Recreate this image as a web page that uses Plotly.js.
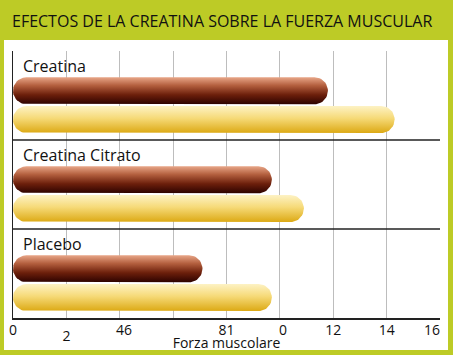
<!DOCTYPE html>
<html>
<head>
<meta charset="utf-8">
<script src="https://cdn.plot.ly/plotly-3.0.1.min.js"></script>
<style>html,body{margin:0;padding:0;}#chart{width:453px;height:355px;}</style>
</head>
<body>
<div id="chart"></div>
<script>
// ---- data ----
const categories = ['Creatina', 'Creatina Citrato', 'Placebo'];
const serieOscura = [11.8, 9.7, 7.1];   // brown bars
const serieClara  = [14.3, 10.9, 9.7];  // yellow bars
const tickVals = [0, 4.16, 8, 10.12, 12, 14, 15.7];
const tickText = ['0', '46', '81', '0', '12', '14', '16'];
const tickValsLow = [2];
const tickTextLow = ['2'];
const titulo = 'EFECTOS DE LA CREATINA SOBRE LA FUERZA MUSCULAR';
const tituloEje = 'Forza muscolare';

// ---- geometry ----
const W = 453, H = 355;
const M = {l: 13, r: 13, t: 51, b: 37};
const plotW = W - M.l - M.r, plotH = H - M.t - M.b;
const xMax = 16, nGroups = categories.length;
const radiusPx = 13.5;
const rx = radiusPx / (plotW / xMax);
const ry = radiusPx / (plotH / nGroups);
const FONT = 'Open Sans, sans-serif';

const brownScale = [[0, '#e8a688'], [0.3, '#b4603f'], [0.65, '#6c1f0b'], [1, '#2c0200']];
const yellowScale = [[0, '#fdf2c4'], [0.45, '#f6da78'], [1, '#dca914']];

function pill(value, yc, scale) {
  const xs = [], ys = [], n = 24;
  const x0 = 0, x1 = value;
  for (let i = 0; i <= n; i++) {
    const t = -Math.PI / 2 + Math.PI * i / n;
    xs.push(x1 - rx + rx * Math.cos(t)); ys.push(yc + ry * Math.sin(t));
  }
  for (let i = 0; i <= n; i++) {
    const t = Math.PI / 2 + Math.PI * i / n;
    xs.push(x0 + rx + rx * Math.cos(t)); ys.push(yc + ry * Math.sin(t));
  }
  return {
    type: 'scatter', mode: 'lines', x: xs, y: ys, fill: 'toself',
    line: {width: 0, color: 'rgba(0,0,0,0)'},
    fillgradient: {type: 'vertical', start: yc - ry, stop: yc + ry, colorscale: scale},
    hoverinfo: 'skip', showlegend: false
  };
}

const traces = [];
categories.forEach((c, i) => {
  traces.push(pill(serieOscura[i], i + 0.447, brownScale));
  traces.push(pill(serieClara[i], i + 0.77, yellowScale));
});
traces.push({type: 'scatter', x: [0], y: [0], xaxis: 'x2', mode: 'markers', marker: {opacity: 0}, hoverinfo: 'skip', showlegend: false});
traces.push({type: 'scatter', x: [0], y: [0], xaxis: 'x3', mode: 'markers', marker: {opacity: 0}, hoverinfo: 'skip', showlegend: false});

const annotations = categories.map((c, i) => ({
  text: c, xref: 'paper', x: 8 / plotW, xanchor: 'left', yref: 'y', y: i + 0.17, yanchor: 'middle',
  showarrow: false, font: {family: FONT, size: 16, color: '#111'}
}));

const shapes = [
  {type: 'rect', layer: 'below', xref: 'paper', yref: 'paper',
   x0: (4 - M.l) / plotW, x1: (448 - M.l) / plotW,
   y0: (M.t + plotH - 350) / plotH, y1: (M.t + plotH - 40) / plotH,
   fillcolor: '#ffffff', line: {width: 0}}
];
for (let i = 1; i < nGroups; i++) {
  shapes.push({type: 'line', xref: 'paper', yref: 'y', x0: 0, x1: 1, y0: i, y1: i, line: {color: '#222', width: 1.5}});
}

const tickFont = {family: FONT, size: 14, color: '#111'};
const layout = {
  width: W, height: H, margin: M,
  paper_bgcolor: '#bdcb26', plot_bgcolor: 'rgba(0,0,0,0)',
  title: {text: titulo, xref: 'container', x: 12 / W, xanchor: 'left', yref: 'container', y: 1 - 21.5 / H, yanchor: 'middle',
          font: {family: FONT, size: 16, color: '#111'}},
  xaxis: {range: [0, xMax], dtick: 2, showgrid: true, gridcolor: '#bdbdbd', gridwidth: 1, zeroline: false,
          showline: true, linecolor: '#222', linewidth: 1.5, ticks: '', showticklabels: false, fixedrange: true,
          title: {text: tituloEje, standoff: 19, font: {family: FONT, size: 14, color: '#111'}}},
  xaxis2: {overlaying: 'x', anchor: 'y', side: 'bottom', range: [0, xMax], showgrid: false, zeroline: false, showline: false,
           tickmode: 'array', tickvals: tickVals, ticktext: tickText, ticks: '', tickfont: tickFont,
           ticklabelstandoff: 2, fixedrange: true},
  xaxis3: {overlaying: 'x', anchor: 'y', side: 'bottom', range: [0, xMax], showgrid: false, zeroline: false, showline: false,
           tickmode: 'array', tickvals: tickValsLow, ticktext: tickTextLow, ticks: '', tickfont: tickFont,
           ticklabelstandoff: 8, fixedrange: true},
  yaxis: {range: [nGroups, 0], showgrid: false, zeroline: false, showline: true, linecolor: '#222', linewidth: 1.5,
          ticks: '', showticklabels: false, fixedrange: true},
  annotations: annotations,
  shapes: shapes,
  showlegend: false
};

Plotly.newPlot('chart', traces, layout, {displayModeBar: false, staticPlot: true});
</script>
</body>
</html>
